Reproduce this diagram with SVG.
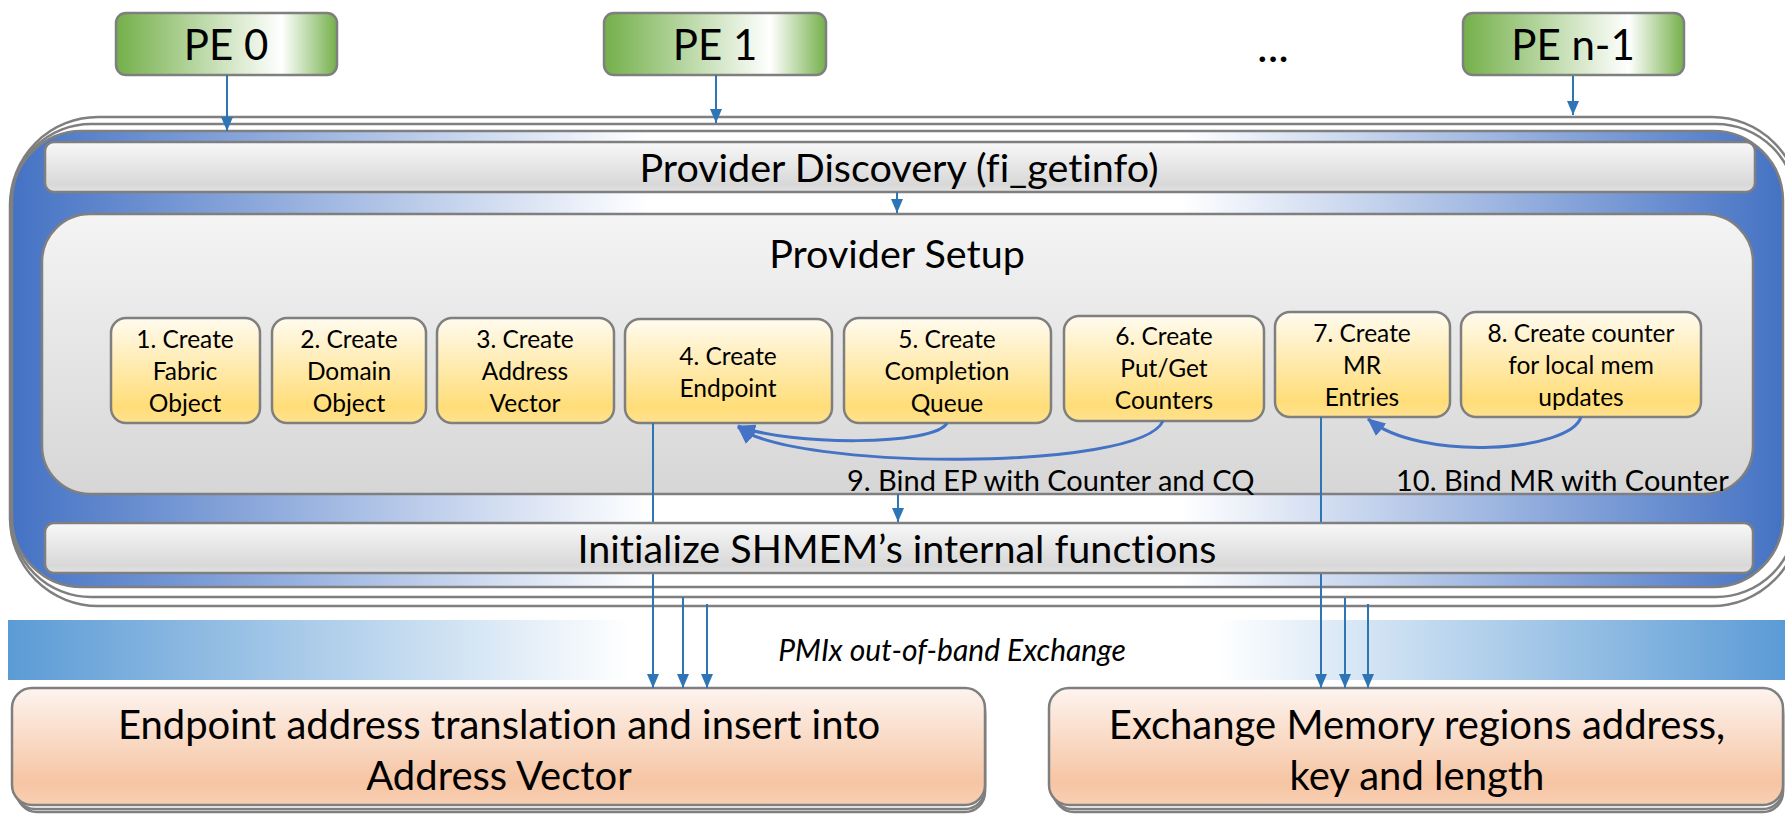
<svg xmlns="http://www.w3.org/2000/svg" width="1785" height="815" viewBox="0 0 1785 815">
  <style>
    text { font-family: Lato, "Liberation Sans", sans-serif; fill: #000; font-variant-ligatures: none; font-feature-settings: "liga" 0; }
    .pe { font-size: 42px; text-anchor: middle; }
    .bar-t { font-size: 39.5px; text-anchor: middle; }
    .step { font-size: 24.5px; text-anchor: middle; }
    .lbl { font-size: 29px; }
    .pmix { font-size: 30px; font-style: italic; text-anchor: middle; }
    .big { font-size: 40px; text-anchor: middle; }
    .edge { stroke: #7f7f7f; stroke-width: 2.5; }
    .frame { fill: #fff; stroke: #7f7f7f; stroke-width: 2.5; }
    .link { fill: none; stroke: #2e75b6; stroke-width: 2; }
    .bind { fill: none; stroke: #4472c4; stroke-width: 3; }
  </style>
  <defs>
    <linearGradient id="gPE" x1="0" y1="0" x2="1" y2="0">
      <stop offset="0" stop-color="#74b04a"/>
      <stop offset="0.75" stop-color="#ffffff"/>
      <stop offset="1" stop-color="#74b04a"/>
    </linearGradient>
    <linearGradient id="gBlue" x1="0" y1="0" x2="1" y2="0">
      <stop offset="0" stop-color="#4472c4"/>
      <stop offset="0.36" stop-color="#ffffff"/>
      <stop offset="0.66" stop-color="#ffffff"/>
      <stop offset="1" stop-color="#4472c4"/>
    </linearGradient>
    <linearGradient id="gBar" x1="0" y1="0" x2="0" y2="1">
      <stop offset="0" stop-color="#f8f8f8"/>
      <stop offset="0.85" stop-color="#d8d8d8"/>
      <stop offset="1" stop-color="#e2e2e2"/>
    </linearGradient>
    <linearGradient id="gPanel" x1="0" y1="0" x2="0" y2="1">
      <stop offset="0" stop-color="#f4f4f4"/>
      <stop offset="1" stop-color="#d6d6d6"/>
    </linearGradient>
    <linearGradient id="gStep" x1="0" y1="0" x2="0" y2="1">
      <stop offset="0" stop-color="#fffbef"/>
      <stop offset="0.85" stop-color="#ffdd78"/>
      <stop offset="1" stop-color="#ffe290"/>
    </linearGradient>
    <linearGradient id="gBand" x1="0" y1="0" x2="1" y2="0">
      <stop offset="0" stop-color="#5b9bd5"/>
      <stop offset="0.35" stop-color="#ffffff"/>
      <stop offset="0.68" stop-color="#ffffff"/>
      <stop offset="1" stop-color="#5b9bd5"/>
    </linearGradient>
    <linearGradient id="gPeach" x1="0" y1="0" x2="0" y2="1">
      <stop offset="0" stop-color="#fdf4ef"/>
      <stop offset="0.8" stop-color="#f6c5a3"/>
      <stop offset="1" stop-color="#f8cfb3"/>
    </linearGradient>
    <marker id="ah" markerUnits="userSpaceOnUse" markerWidth="14" markerHeight="12" refX="14" refY="6" orient="auto">
      <path d="M0,0 L14,6 L0,12 z" fill="#2e75b6"/>
    </marker>
    <marker id="ahBig" markerUnits="userSpaceOnUse" markerWidth="18" markerHeight="16" refX="17" refY="8" orient="auto">
      <path d="M0,0 L18,8 L0,16 z" fill="#4472c4"/>
    </marker>
  </defs>

  <!-- processing elements -->
  <g id="pe0">
    <rect x="116" y="13" width="221" height="62" rx="10" fill="url(#gPE)" class="edge"/>
    <text class="pe" x="226" y="60">PE 0</text>
  </g>
  <g id="pe1">
    <rect x="604" y="13" width="222" height="62" rx="10" fill="url(#gPE)" class="edge"/>
    <text class="pe" x="715" y="60">PE 1</text>
  </g>
  <g id="pe-dots">
    <text class="pe" x="1273" y="62" style="font-size:45px">...</text>
  </g>
  <g id="pe-n1">
    <rect x="1463" y="13" width="221" height="62" rx="10" fill="url(#gPE)" class="edge"/>
    <text class="pe" x="1573" y="60">PE n-1</text>
  </g>

  <!-- stacked runtime container -->
  <g id="runtime">
    <rect x="10" y="117" width="1790" height="489" rx="88" class="frame"/>
    <rect x="11" y="124" width="1785" height="473" rx="80" class="frame"/>
    <rect x="12" y="131" width="1771" height="456" rx="70" fill="url(#gBlue)" class="edge"/>
  </g>

  <g id="discovery">
    <rect x="45" y="142" width="1710" height="50" rx="9" fill="url(#gBar)" class="edge"/>
    <text class="bar-t" x="899" y="182">Provider Discovery (fi_getinfo)</text>
  </g>

  <g id="setup">
    <rect x="42" y="214" width="1711" height="280" rx="48" fill="url(#gPanel)" class="edge"/>
    <text class="bar-t" x="897" y="268">Provider Setup</text>
  </g>

  <!-- PMIx exchange band -->
  <g id="pmix">
    <rect x="8" y="620" width="1777" height="60" fill="url(#gBand)"/>
    <text class="pmix" x="952" y="661">PMIx out-of-band Exchange</text>
  </g>

  <g id="av-insert">
    <rect x="17" y="695" width="968" height="117" rx="20" class="frame"/>
    <rect x="15" y="692" width="970" height="117" rx="20" class="frame"/>
    <rect x="12" y="688" width="973" height="117" rx="20" fill="url(#gPeach)" class="edge"/>
    <text class="big" x="499" y="739">Endpoint address translation and insert into</text>
    <text class="big" x="499" y="790">Address Vector</text>
  </g>

  <g id="mr-exchange">
    <rect x="1054" y="695" width="729" height="117" rx="20" class="frame"/>
    <rect x="1052" y="692" width="731" height="117" rx="20" class="frame"/>
    <rect x="1049" y="688" width="734" height="117" rx="20" fill="url(#gPeach)" class="edge"/>
    <text class="big" x="1417" y="739">Exchange Memory regions address,</text>
    <text class="big" x="1417" y="790">key and length</text>
  </g>

  <!-- setup steps -->
  <g id="step1">
    <rect x="111" y="318" width="149" height="105" rx="15" fill="url(#gStep)" class="edge"/>
    <text class="step" x="185" y="348">1. Create</text>
    <text class="step" x="185" y="380">Fabric</text>
    <text class="step" x="185" y="412">Object</text>
  </g>
  <g id="step2">
    <rect x="272" y="318" width="154" height="105" rx="15" fill="url(#gStep)" class="edge"/>
    <text class="step" x="349" y="348">2. Create</text>
    <text class="step" x="349" y="380">Domain</text>
    <text class="step" x="349" y="412">Object</text>
  </g>
  <g id="step3">
    <rect x="437" y="318" width="177" height="105" rx="15" fill="url(#gStep)" class="edge"/>
    <text class="step" x="525" y="348">3. Create</text>
    <text class="step" x="525" y="380">Address</text>
    <text class="step" x="525" y="412">Vector</text>
  </g>
  <g id="step4">
    <rect x="625" y="319" width="207" height="104" rx="15" fill="url(#gStep)" class="edge"/>
    <text class="step" x="728" y="365">4. Create</text>
    <text class="step" x="728" y="397">Endpoint</text>
  </g>
  <g id="step5">
    <rect x="844" y="318" width="207" height="105" rx="15" fill="url(#gStep)" class="edge"/>
    <text class="step" x="947" y="348">5. Create</text>
    <text class="step" x="947" y="380">Completion</text>
    <text class="step" x="947" y="412">Queue</text>
  </g>
  <g id="step6">
    <rect x="1064" y="316" width="200" height="105" rx="15" fill="url(#gStep)" class="edge"/>
    <text class="step" x="1164" y="345">6. Create</text>
    <text class="step" x="1164" y="377">Put/Get</text>
    <text class="step" x="1164" y="409">Counters</text>
  </g>
  <g id="step7">
    <rect x="1275" y="312" width="175" height="105" rx="15" fill="url(#gStep)" class="edge"/>
    <text class="step" x="1362" y="342">7. Create</text>
    <text class="step" x="1362" y="374">MR</text>
    <text class="step" x="1362" y="406">Entries</text>
  </g>
  <g id="step8">
    <rect x="1461" y="312" width="240" height="105" rx="15" fill="url(#gStep)" class="edge"/>
    <text class="step" x="1581" y="342">8. Create counter</text>
    <text class="step" x="1581" y="374">for local mem</text>
    <text class="step" x="1581" y="406">updates</text>
  </g>

  <!-- connectors -->
  <g id="connectors">
    <path class="link" d="M227 75 V131" marker-end="url(#ah)"/>
    <path class="link" d="M716 75 V123" marker-end="url(#ah)"/>
    <path class="link" d="M1573 76 V115" marker-end="url(#ah)"/>
    <path class="link" d="M897 192 V213" stroke-width="2.5" marker-end="url(#ah)"/>
    <path class="link" d="M898 494 V522" stroke-width="2.5" marker-end="url(#ah)"/>
    <path class="bind" d="M947 423 C935 446, 790 446, 738 426" marker-end="url(#ahBig)"/>
    <path class="bind" d="M1163 421 C1140 472, 790 470, 738 427" marker-end="url(#ahBig)"/>
    <path class="bind" d="M1581 417 C1570 452, 1420 462, 1368 419" marker-end="url(#ahBig)"/>
    <path class="link" d="M653 423 V688" marker-end="url(#ah)"/>
    <path class="link" d="M683 597 V688" marker-end="url(#ah)"/>
    <path class="link" d="M707 604 V688" marker-end="url(#ah)"/>
    <path class="link" d="M1321 417 V688" marker-end="url(#ah)"/>
    <path class="link" d="M1345 598 V688" marker-end="url(#ah)"/>
    <path class="link" d="M1368 604 V688" marker-end="url(#ah)"/>
  </g>

  <g id="init">
    <rect x="45" y="523" width="1708" height="50" rx="9" fill="url(#gBar)" class="edge"/>
    <text class="bar-t" x="897" y="563">Initialize SHMEM’s internal functions</text>
  </g>

  <g id="bind-labels">
    <text class="lbl" x="847" y="491">9. Bind EP with Counter and CQ</text>
    <text class="lbl" x="1396" y="491">10. Bind MR with Counter</text>
  </g>
</svg>
